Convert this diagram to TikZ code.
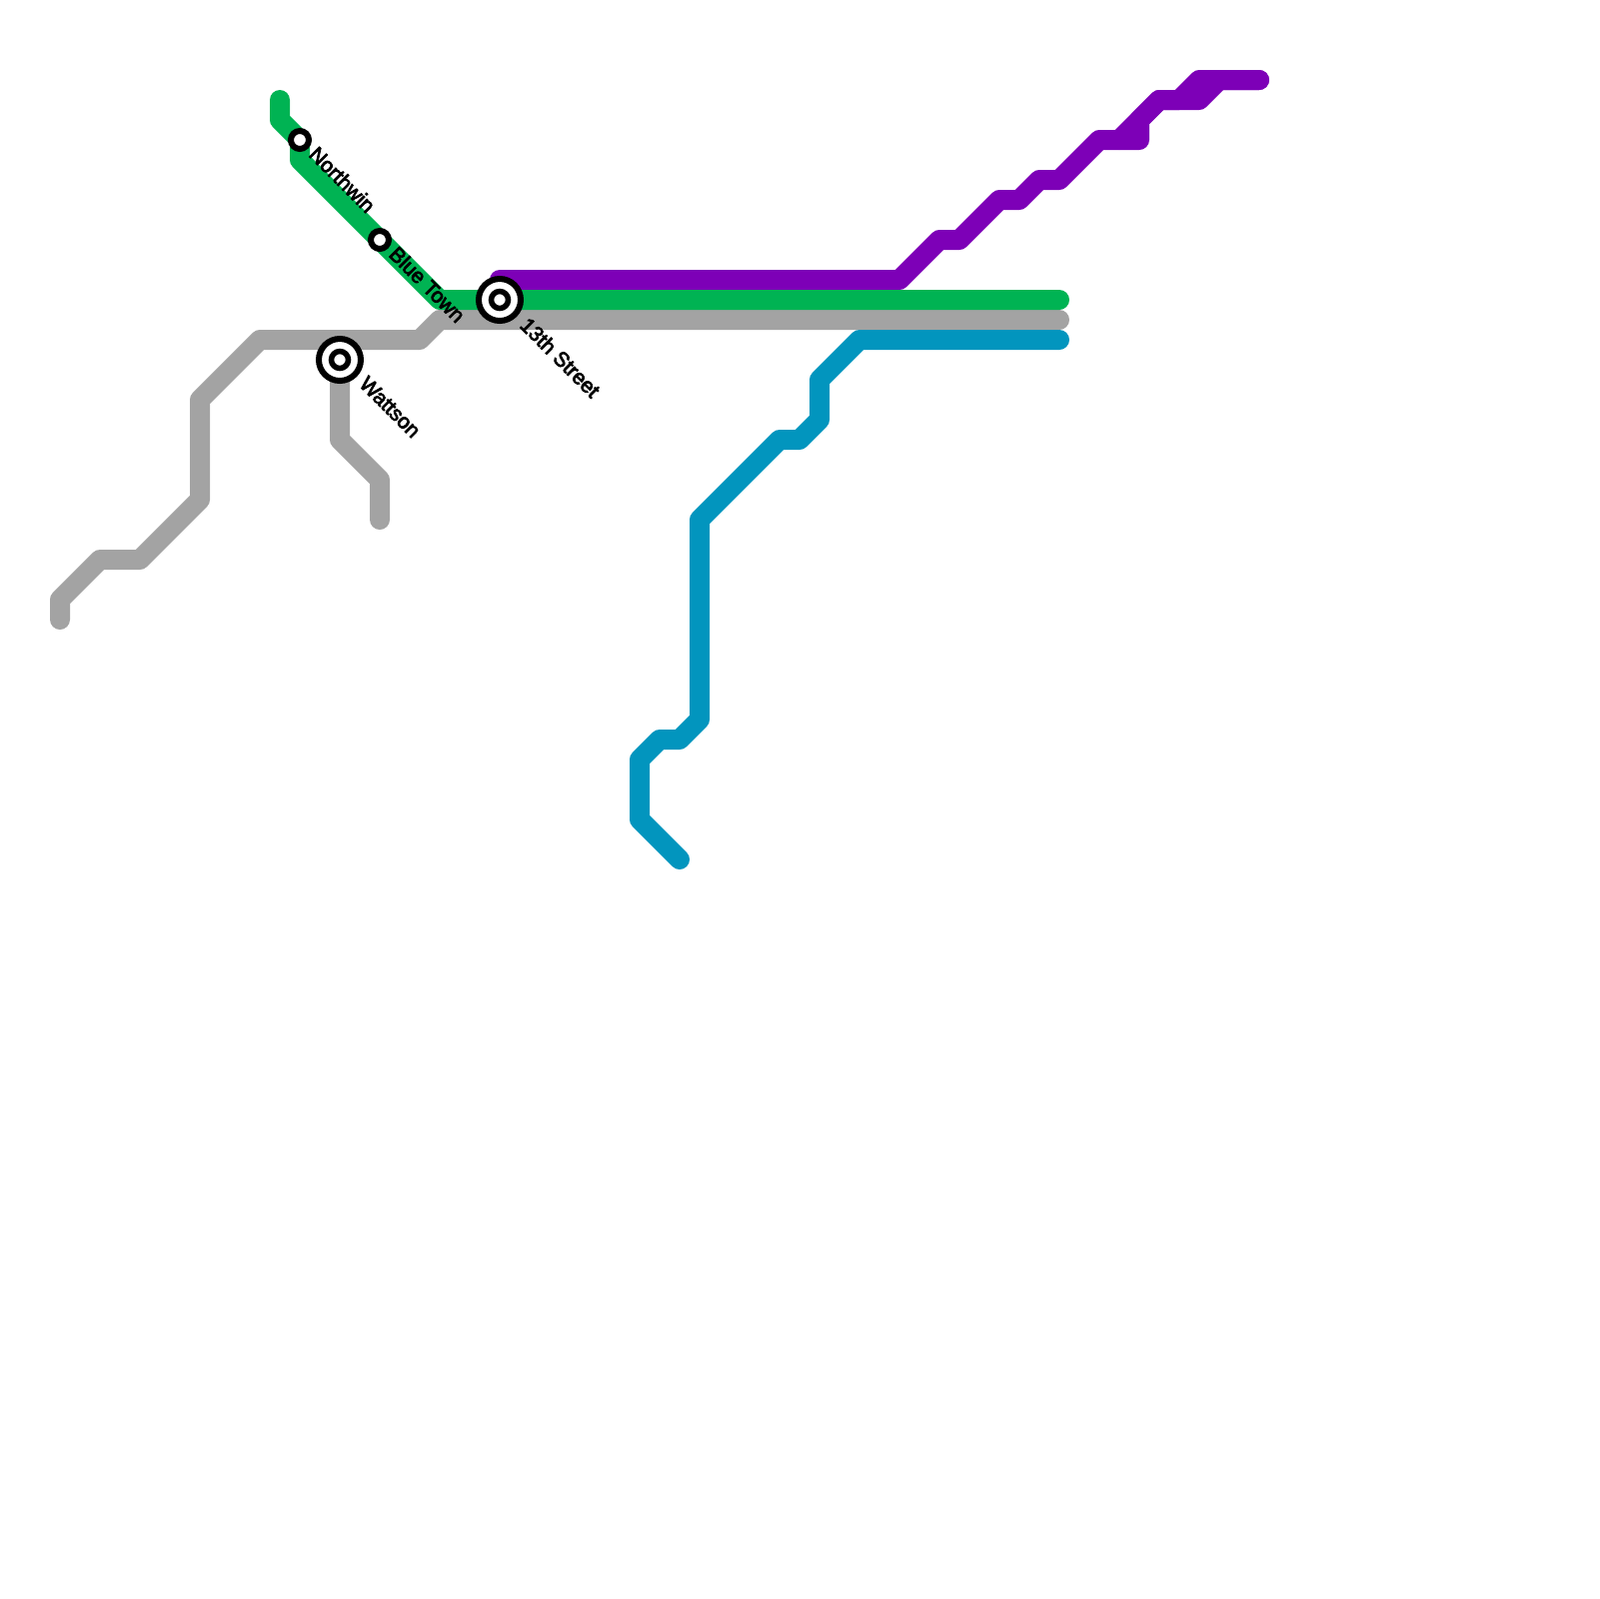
\documentclass[tikz,border=0pt]{standalone}
\usepackage{fontspec}
\newfontfamily\stationfont[FakeBold=3.5]{Liberation Sans}
\usetikzlibrary{calc}
\definecolor{LineGreen}{RGB}{0,179,83}
\definecolor{LineGray}{RGB}{163,163,163}
\definecolor{LinePurple}{RGB}{125,0,183}
\definecolor{LineBlue}{RGB}{2,149,190}
\tikzset{
  track/.style={line width=2mm,line cap=round,line join=round},
  stop/.style={circle,draw=black,fill=white,line width=0.6mm,inner sep=0pt,minimum size=1.8mm},
  hub/.style={circle,draw=black,fill=white,line width=0.6mm,inner sep=0pt,minimum size=4.2mm},
  hubcore/.style={circle,draw=black,fill=white,line width=0.55mm,inner sep=0pt,minimum size=1.7mm},
  stoplabel/.style={anchor=west,inner sep=0pt,rotate=-45,font=\stationfont\fontsize{5.95pt}{6pt}\selectfont},
}
\begin{document}
\begin{tikzpicture}[x=0.1mm,y=-0.1mm]
  \useasboundingbox (0,0) rectangle (1600,1600);
  % grey
  \draw[track,LineGray] (60,620)--(60,600)--(100,560)--(140,560)--(200,500)--(200,400)
    --(260,340)--(420,340)--(440,320)--(1060,320);
  \draw[track,LineGray] (340,360)--(340,440)--(380,480)--(380,520);
  % blue
  \draw[track,LineBlue] (680,860)--(640,820)--(640,760)--(660,740)--(680,740)--(700,720)
    --(700,520)--(780,440)--(800,440)--(820,420)--(820,380)--(860,340)--(1060,340);
  % purple
  \draw[track,LinePurple] (500,280)--(900,280)--(940,240)--(960,240)--(1000,200)--(1020,200)
    --(1040,180)--(1060,180)--(1100,140)--(1140,140)--(1140,120)--(1160,100)--(1200,100)
    --(1220,80)--(1260,80);
  \draw[track,LinePurple] (1120,140)--(1160,100)--(1180,100)--(1200,80)--(1260,80);
  % green
  \draw[track,LineGreen] (280,100)--(280,120)--(300,140);
  \draw[track,LineGreen] (300,140)--(300,160)--(440,300)--(1060,300);
  % stations
  \node[stop] (northwin) at (300,140) {};
  \node[stop] (bluetown) at (380,240) {};
  \node[hub] (thirteenth) at (500,300) {};
  \node[hubcore] (thirteenthcore) at (thirteenth) {};
  \node[hub] (wattson) at (340,360) {};
  \node[hubcore] (wattsoncore) at (wattson) {};
  \node[stoplabel] (northwinlabel) at ($(northwin)+(13,10)$) {Northwin};
  \node[stoplabel] (bluetownlabel) at ($(bluetown)+(13,10)$) {Blue Town};
  \node[stoplabel] (thirteenthlabel) at ($(thirteenth)+(24,21)$) {13th Street};
  \node[stoplabel] (wattsonlabel) at ($(wattson)+(23,20)$) {Wattson};
\end{tikzpicture}
\end{document}
